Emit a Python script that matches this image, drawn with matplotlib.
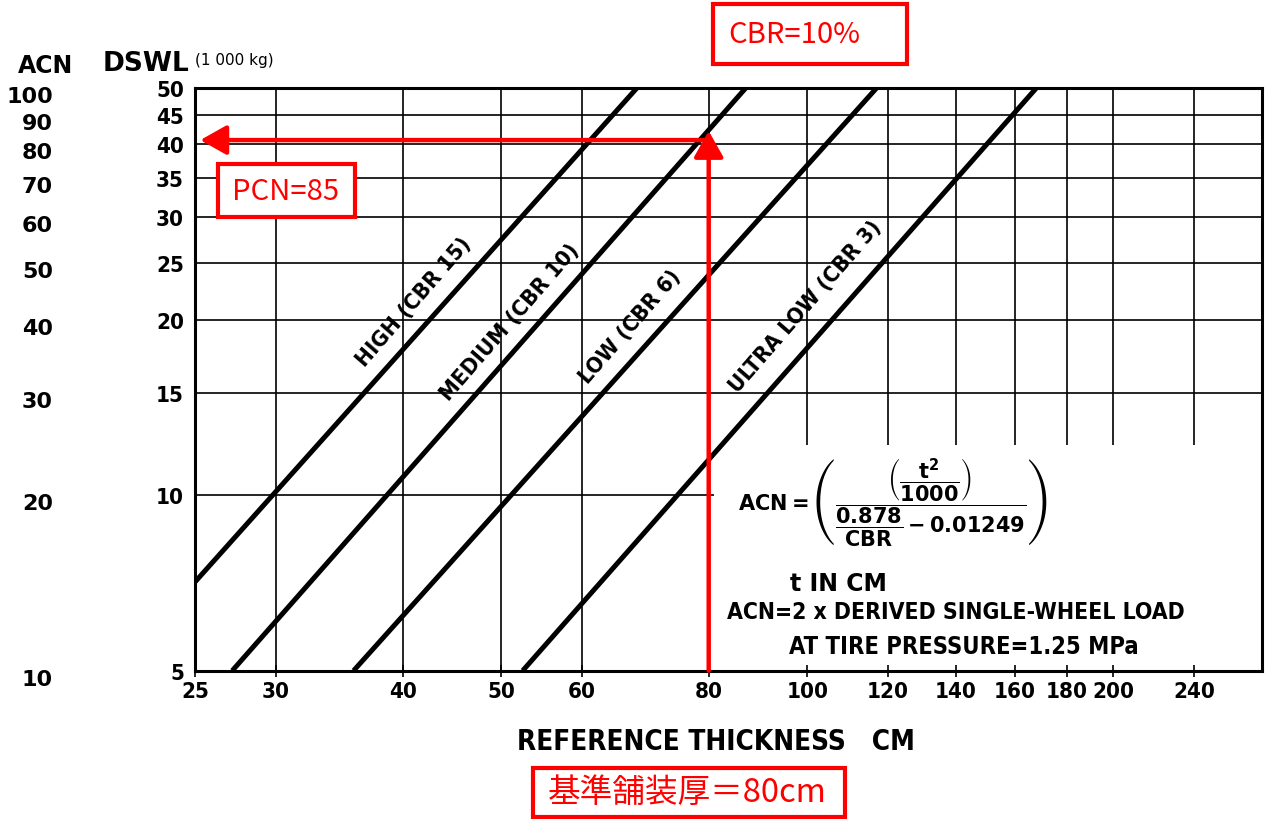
import numpy as np
import matplotlib.pyplot as plt
from matplotlib.patches import Rectangle
from matplotlib.ticker import NullLocator
from matplotlib import transforms

plt.rcParams["font.family"] = ["DejaVu Sans"]
plt.rcParams["mathtext.fontset"] = "dejavusans"
plt.rcParams["mathtext.default"] = "bf"

# ===== data (thickness cm, DSWL 1000 kg) =====
high_t = [25, 68]
high_w = [7.1, 50]
medium_t = [27.2, 87]
medium_w = [5, 50]
low_t = [35.8, 117]
low_w = [5, 50]
ultra_t = [52.5, 168]
ultra_w = [5, 50]
curve_names = ["HIGH (CBR 15)", "MEDIUM (CBR 10)", "LOW (CBR 6)", "ULTRA LOW (CBR 3)"]

x_ticks = [25, 30, 40, 50, 60, 80, 100, 120, 140, 160, 180, 200, 240]
dswl_ticks = [5, 10, 15, 20, 25, 30, 35, 40, 45, 50]
acn_ticks = [10, 20, 30, 40, 50, 60, 70, 80, 90, 100]

ref_t = 80        # reference thickness
pcn_dswl = 40.7   # DSWL where the arrow meets the CBR 10 line

W, H = 1270, 820
fig = plt.figure(figsize=(W / 100, H / 100), dpi=100)
ax = fig.add_axes([195 / W, 1 - 671.7 / H, (1262 - 195) / W, (671.7 - 89) / H])
ax.set_xscale("log")
ax.set_yscale("log")
ax.set_xlim(25, 280)
ax.set_ylim(5, 50)

# grid
for v in x_ticks[1:]:
    ax.axvline(v, color="black", lw=1.2, zorder=1)
for h in dswl_ticks[1:-1]:
    ax.axhline(h, color="black", lw=1.2, zorder=1)

# blank area for the formula
ax.add_patch(Rectangle((81.0, 5), 280 - 81.0, 12.2 - 5, facecolor="white",
                       edgecolor="none", zorder=1.5))

# CBR lines
curves = [(high_t, high_w), (medium_t, medium_w), (low_t, low_w), (ultra_t, ultra_w)]
for t, w in curves:
    ax.plot(t, w, color="black", lw=3.6, solid_capstyle="butt", zorder=2)

label_pos = [(41.0, 21.5), (51.0, 19.9), (67.0, 19.5), (99.5, 21.1)]
for (lx, ly), name in zip(label_pos, curve_names):
    ax.text(lx, ly, name, rotation=49, ha="center", va="center", fontsize=16,
            fontweight="bold", fontstretch="condensed", zorder=3)

# axes styling
for s in ax.spines.values():
    s.set_linewidth(2.2)
    s.set_zorder(3)
ax.set_xticks(x_ticks)
ax.set_xticklabels([str(v) for v in x_ticks])
ax.set_yticks(dswl_ticks)
ax.set_yticklabels([str(v) for v in dswl_ticks])
ax.xaxis.set_minor_locator(NullLocator())
ax.yaxis.set_minor_locator(NullLocator())
ax.tick_params(axis="x", direction="inout", length=9, width=1.2, pad=3)
ax.tick_params(axis="y", length=0, pad=8)
for lab in ax.get_xticklabels() + ax.get_yticklabels():
    lab.set_fontsize(16)
    lab.set_fontweight("bold")
    lab.set_fontstretch("condensed")

# ACN scale (ACN = 2 x DSWL)
acn_tr = transforms.blended_transform_factory(fig.transFigure, ax.transData) + \
    transforms.ScaledTranslation(0, -8 / 100, fig.dpi_scale_trans)
for a in acn_ticks:
    fig.text(53 / W, a / 2, str(a), transform=acn_tr, ha="right", va="center",
             fontsize=16, fontweight="bold")

fig.text(18 / W, 1 - 66 / H, "ACN", fontsize=17, fontweight="bold", va="center")
fig.text(103 / W, 1 - 64 / H, "DSWL", fontsize=19, fontweight="bold", va="center")
fig.text(195 / W, 1 - 60 / H, "(1 000 kg)", fontsize=11, va="center")

fig.text(716 / W, 1 - 742 / H, "REFERENCE THICKNESS   CM", fontsize=20,
         fontweight="bold", fontstretch="condensed", ha="center", va="center")

# formula and notes
fig.text(738 / W, 1 - 503 / H,
         r"$ACN=\left(\dfrac{\left(\dfrac{t^2}{1000}\right)}{\dfrac{0.878}{CBR}-0.01249}\right)$",
         fontsize=15, ha="left", va="center")
fig.text(838 / W, 1 - 584 / H, "t IN CM", fontsize=17, fontweight="bold",
         ha="center", va="center")
fig.text(956 / W, 1 - 613 / H, "ACN=2 x DERIVED SINGLE-WHEEL LOAD", fontsize=16.5,
         fontweight="bold", fontstretch="condensed", ha="center", va="center")
fig.text(964 / W, 1 - 647 / H, "AT TIRE PRESSURE=1.25 MPa", fontsize=17,
         fontweight="bold", fontstretch="condensed", ha="center", va="center")

# red annotations
red = "#ff0000"
ax.annotate("", xy=(ref_t, pcn_dswl + 1.5), xytext=(ref_t, 5),
            arrowprops=dict(arrowstyle="-|>,head_length=0.8,head_width=0.45",
                            color=red, lw=3.2, mutation_scale=20,
                            shrinkA=0, shrinkB=0), zorder=5)
ax.annotate("", xy=(25.3, pcn_dswl), xytext=(ref_t, pcn_dswl),
            arrowprops=dict(arrowstyle="-|>,head_length=0.8,head_width=0.45",
                            color=red, lw=3.2, mutation_scale=20,
                            shrinkA=0, shrinkB=0), zorder=5)

red_font = ["Noto Sans CJK JP", "DejaVu Sans"]
boxes = [
    ((713, 5, 907, 65), 728, "CBR=10%", 21),
    ((218, 165, 355, 218), 232, "PCN=85", 21),
    ((533, 769, 845, 818), 548, "基準舗装厚＝80cm", 23.5),
]
for (x0, y0, x1, y1), tx, txt, fs in boxes:
    fig.add_artist(Rectangle((x0 / W, 1 - y1 / H), (x1 - x0) / W, (y1 - y0) / H,
                             transform=fig.transFigure, facecolor="white",
                             edgecolor=red, lw=3, zorder=6))
    fig.text(tx / W, 1 - (y0 + y1) / 2 / H, txt, color=red, fontsize=fs,
             family=red_font, va="center", ha="left", zorder=7)

fig.savefig("out.png", dpi=100)
